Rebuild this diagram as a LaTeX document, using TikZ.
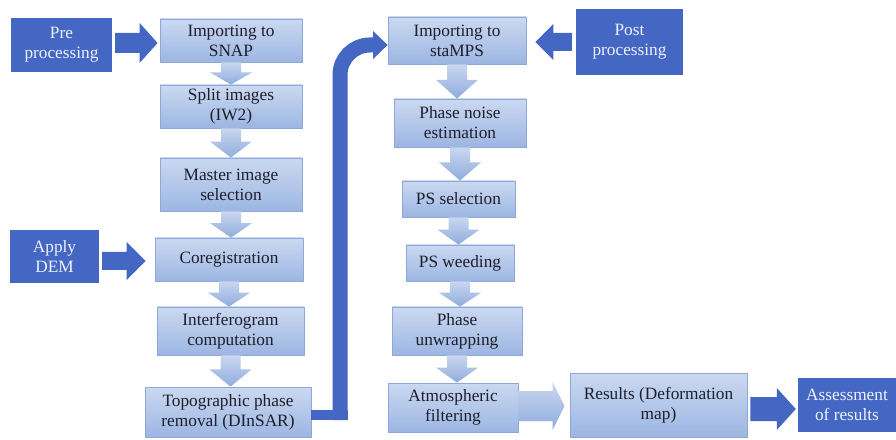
\documentclass[tikz,border=0pt]{standalone}
\usepackage{fontspec}
\setmainfont{Liberation Serif}
\usetikzlibrary{calc}
\definecolor{darkb}{HTML}{4467C4}
\definecolor{boxtop}{HTML}{CBD9F1}
\definecolor{boxbot}{HTML}{9CB6E2}
\definecolor{boxline}{HTML}{8EA8D8}
\definecolor{arrtop}{HTML}{C9D7F0}
\definecolor{arrbot}{HTML}{90ACDD}
\definecolor{txt}{HTML}{1E1E2A}
\definecolor{wtxt}{HTML}{EEF2FA}
\newcommand{\blockarrow}[6]{%
  \path #2 coordinate (ba-A) #3 coordinate (ba-B);
  \coordinate (ba-H) at ($(ba-B)!#6!(ba-A)$);
  \path[#1] ($(ba-A)!#4!90:(ba-B)$) -- ($(ba-H)!#4!90:(ba-B)$) -- ($(ba-H)!#5!90:(ba-B)$) -- (ba-B) -- ($(ba-H)!#5!-90:(ba-B)$) -- ($(ba-H)!#4!-90:(ba-B)$) -- ($(ba-A)!#4!-90:(ba-B)$) -- cycle;}
\newcommand{\dnarrow}[2]{\blockarrow{lightarr}{(#1.south)}{(#1.south |- #2.north)}{10pt}{21pt}{0.55}}
\tikzset{
  txtfont/.style={font=\fontsize{17.3}{20}\selectfont},
  box/.style={draw=boxline, line width=0.8pt, top color=boxtop, bottom color=boxbot, text=txt, align=center, inner sep=0pt, txtfont},
  dbox/.style={fill=darkb, draw=none, text=wtxt, align=center, inner sep=0pt, txtfont},
  sz/.style 2 args={minimum width=#1pt, minimum height=#2pt},
  lightarr/.style={top color=arrtop, bottom color=arrbot, draw=none},
  darkarr/.style={fill=darkb, draw=none},
  bigconn/.style={draw=darkb, line cap=butt}
}
\begin{document}
\begin{tikzpicture}[x=1pt,y=1pt]
\useasboundingbox (0,0) rectangle (896,439);
\fill[white] (0,0) rectangle (896,439);
% left column
\node[dbox, sz={101}{54}] (pre) at (61.5,394) {Pre\\processing};
\node[box, sz={142}{43}] (snap) at (231,398.5) {Importing to\\SNAP};
\node[box, sz={142}{43}] (split) at (231,332.5) {Split images\\(IW2)};
\node[box, sz={142}{53}] (master) at (231,254.5) {Master image\\selection};
\node[dbox, sz={89}{53}] (dem) at (54.5,182.5) {Apply\\DEM};
\node[box, sz={148}{43}] (coreg) at (229,179.5) {Coregistration};
\node[box, sz={147}{48}] (interf) at (230.5,108) {Interferogram\\computation};
\node[box, sz={166}{50}] (topo) at (228,27) {Topographic phase\\removal (DInSAR)};
% right column
\node[box, sz={138}{47}] (stamps) at (457,398.5) {Importing to\\staMPS};
\node[dbox, sz={107}{66}] (post) at (629.5,397) {Post\\processing};
\node[box, sz={132}{48}] (noise) at (460,316) {Phase noise\\estimation};
\node[box, sz={113}{36}] (pssel) at (458.5,240) {PS selection};
\node[box, sz={108}{36}] (psweed) at (460,176) {PS weeding};
\node[box, sz={130}{48}] (unwrap) at (457,108) {Phase\\unwrapping};
\node[box, sz={130}{49}] (atmos) at (453,31.5) {Atmospheric\\filtering};
\node[box, sz={177}{64}] (results) at (658.5,34) {Results (Deformation\\map)};
\node[dbox, sz={98}{54}] (assess) at (847,34) {Assessment\\of results};
% down arrows
\dnarrow{snap}{split}
\dnarrow{split}{master}
\dnarrow{master}{coreg}
\dnarrow{coreg}{interf}
\dnarrow{interf}{topo}
\dnarrow{stamps}{noise}
\dnarrow{noise}{pssel}
\dnarrow{pssel}{psweed}
\dnarrow{psweed}{unwrap}
\dnarrow{unwrap}{atmos}
% horizontal block arrows
\blockarrow{darkarr}{($(pre.east |- 0,396)+(3,0)$)}{($(snap.west |- 0,396)+(-2,0)$)}{10pt}{20pt}{18pt}
\blockarrow{darkarr}{($(dem.east |- 0,178)+(3,0)$)}{($(coreg.west |- 0,178)+(-9,0)$)}{9pt}{19pt}{19pt}
\blockarrow{darkarr}{($(post.west |- 0,397)+(-4,0)$)}{($(stamps.east |- 0,397)+(9,0)$)}{9pt}{18pt}{18pt}
\blockarrow{lightarr}{($(atmos.east |- 0,33)$)}{($(results.west |- 0,33)+(-5,0)$)}{15pt}{24pt}{12pt}
\blockarrow{darkarr}{($(results.east |- 0,30)+(3,0)$)}{($(assess.west |- 0,30)+(-2,0)$)}{12pt}{21pt}{19pt}
% big connector
\coordinate (tipT) at (stamps.west |- 0,394);
\coordinate (vb) at (340,19);
\draw[bigconn, line width=10pt] (topo.east |- 0,24) -- (347.5,24);
\draw[bigconn, line width=15pt, rounded corners=30pt] (vb) -- (vb |- tipT) -- ($(tipT)+(-14,0)$);
\fill[darkb] ($(tipT)+(-14.5,14)$) -- (tipT) -- ($(tipT)+(-14.5,-14)$) -- cycle;
\end{tikzpicture}
\end{document}
